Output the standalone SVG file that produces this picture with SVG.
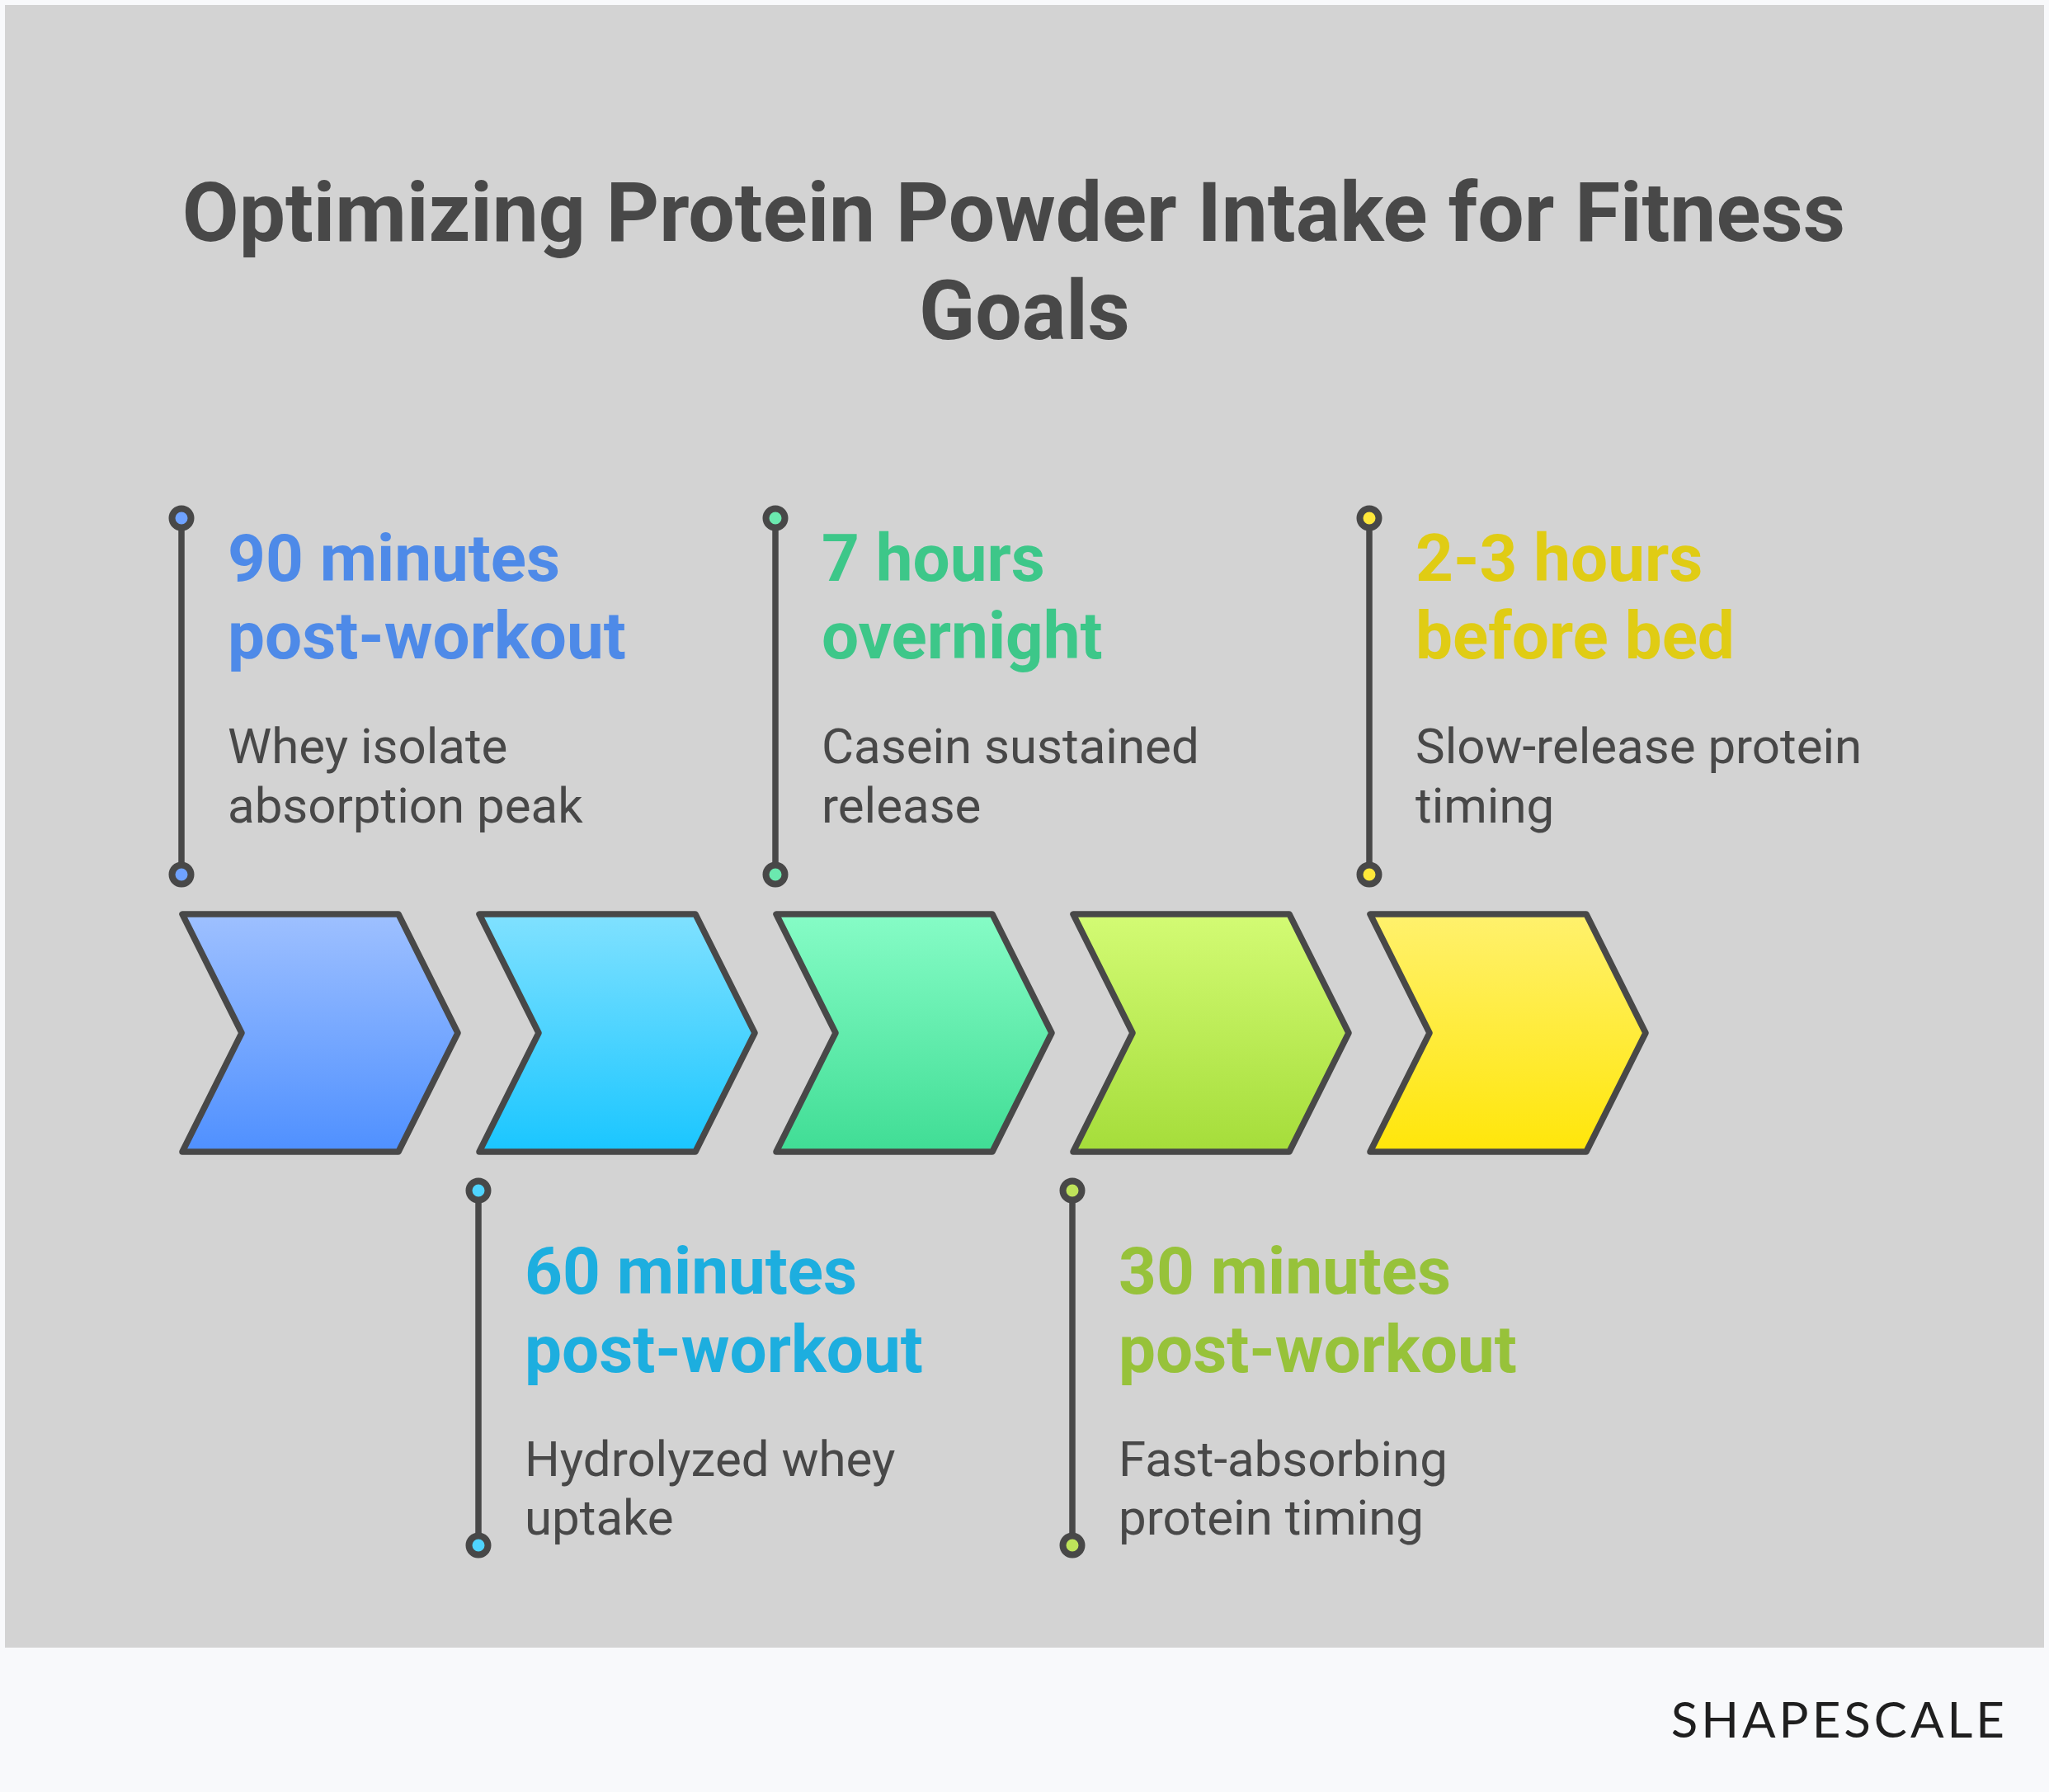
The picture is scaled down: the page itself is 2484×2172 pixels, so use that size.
<svg xmlns="http://www.w3.org/2000/svg" width="2484" height="2172" viewBox="0 0 2484 2172">
<defs>
<style>
.title{font-family:Roboto,"Liberation Sans",sans-serif;font-weight:700;font-size:100px;fill:#484848;text-anchor:middle}
.head{font-family:Roboto,"Liberation Sans",sans-serif;font-weight:700;font-size:80px}
.body{font-family:Roboto,"Liberation Sans",sans-serif;font-weight:400;font-size:60px;fill:#484848}
.chev{stroke:#484848;stroke-width:7.5;stroke-linejoin:round}
.stem{stroke:#484848;stroke-width:7.5;fill:none}
.dot{stroke:#484848;stroke-width:8}
.logo{font-family:Lato,"Liberation Sans",sans-serif;font-weight:400;font-size:60px;fill:#1f1f1f;text-anchor:end;letter-spacing:4px}
</style>
<linearGradient id="gBlue" x1="0" y1="0" x2="0" y2="1"><stop offset="0" stop-color="#9EC0FF"/><stop offset="1" stop-color="#4F90FF"/></linearGradient>
<linearGradient id="gCyan" x1="0" y1="0" x2="0" y2="1"><stop offset="0" stop-color="#80E1FF"/><stop offset="1" stop-color="#1AC6FF"/></linearGradient>
<linearGradient id="gGreen" x1="0" y1="0" x2="0" y2="1"><stop offset="0" stop-color="#86FCC6"/><stop offset="1" stop-color="#40DD95"/></linearGradient>
<linearGradient id="gLime" x1="0" y1="0" x2="0" y2="1"><stop offset="0" stop-color="#D3FB74"/><stop offset="1" stop-color="#A5DD3A"/></linearGradient>
<linearGradient id="gYellow" x1="0" y1="0" x2="0" y2="1"><stop offset="0" stop-color="#FFF16D"/><stop offset="1" stop-color="#FFE60A"/></linearGradient>
<path id="chevShape" d="M0,0 L262,0 L334,144 L262,288 L0,288 L72,144 Z"/>
</defs>
<rect x="0" y="0" width="2484" height="2172" fill="#F8F9FB"/>
<rect x="6" y="6" width="2472" height="1991" fill="#D3D3D3"/>
<g id="title">
<text class="title" x="1229" y="292">Optimizing Protein Powder Intake for Fitness</text>
<text class="title" x="1242" y="411">Goals</text>
</g>
<g id="connectors">
<line class="stem" x1="220" y1="628" x2="220" y2="1060"/>
<line class="stem" x1="580" y1="1443" x2="580" y2="1873"/>
<line class="stem" x1="940" y1="628" x2="940" y2="1060"/>
<line class="stem" x1="1300" y1="1443" x2="1300" y2="1873"/>
<line class="stem" x1="1660" y1="628" x2="1660" y2="1060"/>
</g>
<g id="step1">
<use href="#chevShape" x="221" y="1108" class="chev" fill="url(#gBlue)"/>
<circle class="dot" cx="220" cy="628" r="11.5" fill="#6FA2FF"/>
<circle class="dot" cx="220" cy="1060" r="11.5" fill="#6FA2FF"/>
<text class="head" fill="#4E8AE8" x="276" y="704">90 minutes</text>
<text class="head" fill="#4E8AE8" x="276" y="798">post-workout</text>
<text class="body" x="276" y="925">Whey isolate</text>
<text class="body" x="276" y="997">absorption peak</text>
</g>
<g id="step2">
<use href="#chevShape" x="581" y="1108" class="chev" fill="url(#gCyan)"/>
<circle class="dot" cx="580" cy="1443" r="11.5" fill="#4FD4FF"/>
<circle class="dot" cx="580" cy="1873" r="11.5" fill="#4FD4FF"/>
<text class="head" fill="#1DAEDF" x="636" y="1568">60 minutes</text>
<text class="head" fill="#1DAEDF" x="636" y="1663">post-workout</text>
<text class="body" x="636" y="1789">Hydrolyzed whey</text>
<text class="body" x="636" y="1860">uptake</text>
</g>
<g id="step3">
<use href="#chevShape" x="941" y="1108" class="chev" fill="url(#gGreen)"/>
<circle class="dot" cx="940" cy="628" r="11.5" fill="#6BE9AF"/>
<circle class="dot" cx="940" cy="1060" r="11.5" fill="#6BE9AF"/>
<text class="head" fill="#3DC789" x="996" y="704">7 hours</text>
<text class="head" fill="#3DC789" x="996" y="798">overnight</text>
<text class="body" x="996" y="925">Casein sustained</text>
<text class="body" x="996" y="997">release</text>
</g>
<g id="step4">
<use href="#chevShape" x="1301" y="1108" class="chev" fill="url(#gLime)"/>
<circle class="dot" cx="1300" cy="1443" r="11.5" fill="#BEE35A"/>
<circle class="dot" cx="1300" cy="1873" r="11.5" fill="#BEE35A"/>
<text class="head" fill="#97C23A" x="1356" y="1568">30 minutes</text>
<text class="head" fill="#97C23A" x="1356" y="1663">post-workout</text>
<text class="body" x="1356" y="1789">Fast-absorbing</text>
<text class="body" x="1356" y="1860">protein timing</text>
</g>
<g id="step5">
<use href="#chevShape" x="1661" y="1108" class="chev" fill="url(#gYellow)"/>
<circle class="dot" cx="1660" cy="628" r="11.5" fill="#FFE83A"/>
<circle class="dot" cx="1660" cy="1060" r="11.5" fill="#FFE83A"/>
<text class="head" fill="#E0CC14" x="1716" y="704">2-3 hours</text>
<text class="head" fill="#E0CC14" x="1716" y="798">before bed</text>
<text class="body" x="1716" y="925">Slow-release protein</text>
<text class="body" x="1716" y="997">timing</text>
</g>
<g id="logo">
<text class="logo" x="2434" y="2106">SHAPESCALE</text>
</g>
</svg>
